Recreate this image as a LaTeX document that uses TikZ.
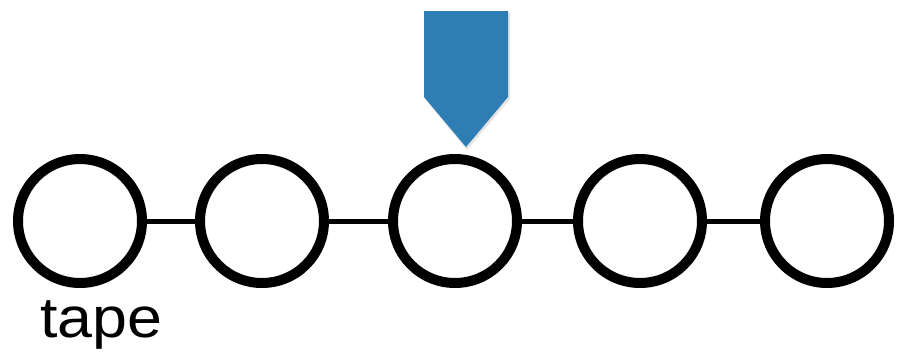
\documentclass[tikz,border=0pt]{standalone}
\usepackage{fontspec}
\setmainfont{Liberation Sans}
\definecolor{headblue}{RGB}{46,125,181}
\begin{document}
\begin{tikzpicture}[x=1pt,y=-1pt,
  cell/.style={circle,draw=black,line width=10pt,minimum size=124pt,inner sep=0pt},
  link/.style={line width=5pt,draw=black}]
\useasboundingbox (0,0) rectangle (899,356);
\node[cell] (c1) at (80,221) {};
\node[cell] (c2) at (262,221) {};
\node[cell] (c3) at (455,221) {};
\node[cell] (c4) at (640,221) {};
\node[cell] (c5) at (827,221) {};
\draw[link] (c1) -- (c2);
\draw[link] (c2) -- (c3);
\draw[link] (c3) -- (c4);
\draw[link] (c4) -- (c5);
\fill[black!30,opacity=0.35] (425,13) -- (510,13) -- (510,99) -- (467,150) -- (425,99) -- cycle;
\fill[headblue] (424,11) -- (508,11) -- (508,97) -- (466,147) -- (424,97) -- cycle;
\node[anchor=base west,inner sep=0pt,xscale=1.1,font=\fontsize{57}{60}\selectfont] (lbl) at (40,337) {tape};
\end{tikzpicture}
\end{document}
